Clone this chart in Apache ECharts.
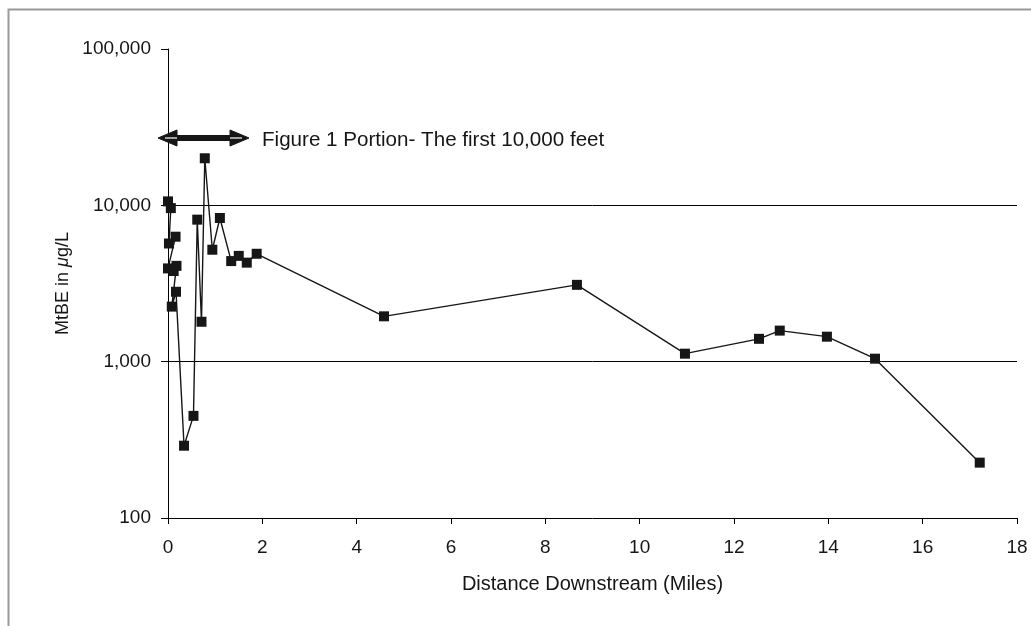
<!DOCTYPE html>
<html>
<head>
<meta charset="utf-8">
<script src="https://cdn.jsdelivr.net/npm/echarts@6/dist/echarts.min.js"></script>
<style>html,body{margin:0;padding:0;background:#fff}#c{width:1031px;height:626px}</style>
</head>
<body>
<div id="c"></div>
<script>
// Distance downstream (miles)
const distance = [0.00, 0.06, 0.02, 0.16, 0.00, 0.12, 0.18, 0.08, 0.17, 0.34, 0.54, 0.62, 0.71, 0.78, 0.94, 1.10, 1.34, 1.50, 1.67, 1.88, 4.58, 8.67, 10.96, 12.53, 12.97, 13.97, 14.99, 17.21];
// MtBE concentration (ug/L)
const mtbe = [10600, 9600, 5700, 6300, 3950, 3800, 4100, 2250, 2800, 290, 450, 8100, 1800, 20000, 5200, 8300, 4400, 4750, 4300, 4900, 1950, 3100, 1125, 1400, 1580, 1445, 1045, 226];
const xTicks = [0, 2, 4, 6, 8, 10, 12, 14, 16, 18];
const yTicks = [100, 1000, 10000, 100000];
const annotation = 'Figure 1 Portion- The first 10,000 feet';

const points = distance.map((d, i) => [d, mtbe[i]]);
const chart = echarts.init(document.getElementById('c'), null, {renderer: 'canvas'});
const ink = '#161616';
chart.setOption({
  animation: false,
  backgroundColor: '#fff',
  grid: {left: 168, right: 14, top: 49, bottom: 108, containLabel: false},
  xAxis: {
    type: 'value', min: 0, max: 18, interval: 2,
    name: 'Distance Downstream (Miles)', nameLocation: 'middle', nameGap: 56, nameMoveOverlap: false,
    nameTextStyle: {fontFamily: 'Liberation Sans, Arial', fontSize: 20, color: ink},
    axisLine: {show: true, onZero: false, lineStyle: {color: '#000', width: 1}},
    axisTick: {show: true, length: 6, inside: false, lineStyle: {color: '#000'}},
    axisLabel: {fontFamily: 'Liberation Sans, Arial', fontSize: 19, color: ink, margin: 20,
      formatter: v => xTicks.includes(v) ? String(v) : ''},
    splitLine: {show: false}
  },
  yAxis: {
    type: 'log', logBase: 10, min: 100, max: 100000,
    name: '{a|MtBE in }{b|μ}{a|g/L}', nameLocation: 'middle', nameGap: 96, nameRotate: 90, nameMoveOverlap: false,
    nameTextStyle: {rich: {
      a: {fontFamily: 'Liberation Sans, Arial', fontSize: 18, color: ink},
      b: {fontFamily: 'Liberation Sans, Arial', fontSize: 18, color: ink, fontStyle: 'italic'}
    }},
    axisLine: {show: true, lineStyle: {color: '#000', width: 1}},
    axisTick: {show: true, length: 7, lineStyle: {color: '#000'}},
    minorTick: {show: false},
    axisLabel: {fontFamily: 'Liberation Sans, Arial', fontSize: 19, color: ink, margin: 17,
      formatter: v => yTicks.includes(Math.round(v)) ? Math.round(v).toLocaleString('en-US') : ''},
    splitLine: {show: true, showMinLine: false, showMaxLine: false, lineStyle: {color: '#000', width: 1}}
  },
  series: [{
    type: 'line', data: points, symbol: 'rect', symbolSize: 10, showSymbol: true,
    lineStyle: {color: ink, width: 1.4}, itemStyle: {color: ink}, clip: false
  }],
  graphic: [
    {type: 'rect', shape: {x: 8.5, y: 9.5, width: 1040, height: 640}, style: {fill: 'none', stroke: '#9a9a9a', lineWidth: 2}, silent: true},
    {type: 'line', shape: {x1: 172, y1: 138, x2: 235, y2: 138}, style: {stroke: ink, lineWidth: 6}, z: 10},
    {type: 'polygon', shape: {points: [[158, 138], [177, 130], [177, 146]]}, style: {fill: ink, stroke: ink, lineWidth: 1}, z: 10},
    {type: 'polygon', shape: {points: [[249, 138], [230, 130], [230, 146]]}, style: {fill: ink, stroke: ink, lineWidth: 1}, z: 10},
    {type: 'line', shape: {x1: 165, y1: 138, x2: 177, y2: 138}, style: {stroke: '#fff', lineWidth: 1.2}, z: 11},
    {type: 'line', shape: {x1: 230, y1: 138, x2: 242, y2: 138}, style: {stroke: '#fff', lineWidth: 1.2}, z: 11},
    {type: 'text', left: 262, top: 130, style: {text: annotation, font: '20.6px "Liberation Sans", Arial', fill: ink}, z: 10}
  ]
});
</script>
</body>
</html>
